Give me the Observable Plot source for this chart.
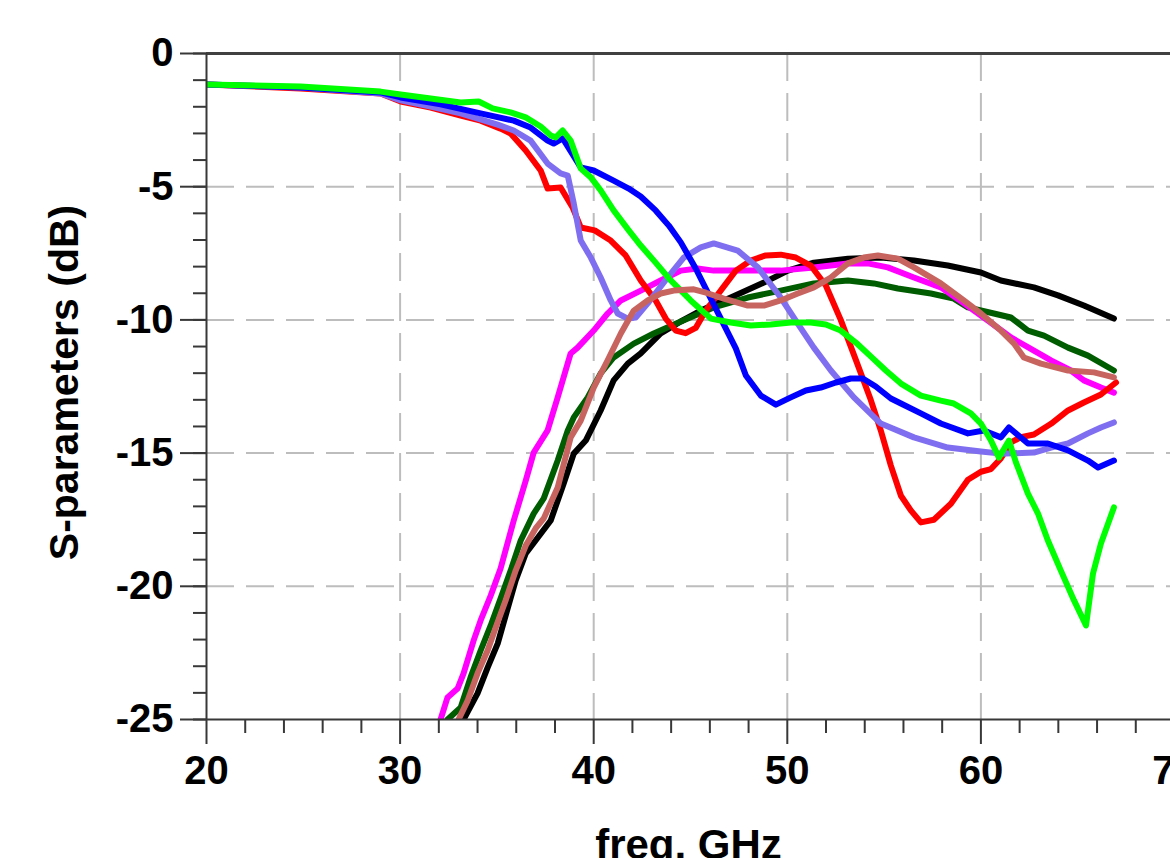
<!DOCTYPE html>
<html>
<head>
<meta charset="utf-8">
<script src="https://cdn.jsdelivr.net/npm/d3@7"></script>
<script src="https://cdn.jsdelivr.net/npm/@observablehq/plot@0.6"></script>
<style>
  html, body { margin: 0; padding: 0; background: #fff; overflow: hidden; }
  #chart svg { display: block; font-family: Arial, "Liberation Sans", sans-serif; font-weight: bold; }
</style>
</head>
<body>
<div id="chart"></div>
<script>
// frequency (GHz), S-parameter (dB)
const red = [[20,-1.16],[24.86,-1.31],[28.99,-1.5],[30.03,-1.8],[31.58,-2.03],[33.13,-2.33],[34.16,-2.52],[35.19,-2.82],[35.71,-3.0],[36.49,-3.64],[37.26,-4.39],[37.62,-5.07],[38.29,-5.03],[38.91,-5.78],[39.33,-6.53],[40.05,-6.64],[40.88,-7.02],[41.65,-7.58],[42.43,-8.52],[43.2,-9.27],[43.72,-9.95],[44.24,-10.4],[44.75,-10.5],[45.27,-10.3],[45.79,-9.65],[46.56,-8.9],[47.34,-8.15],[48.11,-7.77],[48.89,-7.58],[49.66,-7.55],[50.44,-7.66],[51.21,-7.96],[51.99,-8.71],[52.76,-10.0],[53.54,-11.5],[54.31,-13.0],[54.83,-14.15],[55.35,-15.47],[55.87,-16.6],[56.38,-17.15],[56.9,-17.6],[57.57,-17.5],[58.45,-16.9],[59.33,-16.0],[60.0,-15.7],[60.52,-15.6],[61.03,-15.2],[61.55,-14.6],[62.07,-14.4],[62.74,-14.3],[63.62,-13.9],[64.5,-13.4],[65.32,-13.1],[66.2,-12.8],[66.98,-12.35]];
const blue = [[20,-1.16],[24.86,-1.28],[28.99,-1.46],[30.03,-1.65],[32.09,-1.91],[34.16,-2.25],[35.87,-2.52],[36.74,-2.78],[37.62,-3.27],[37.93,-3.38],[38.4,-3.19],[39.33,-4.28],[40.0,-4.39],[41.03,-4.77],[41.81,-5.07],[42.43,-5.37],[43.2,-5.89],[43.88,-6.46],[44.5,-7.09],[45.27,-8.07],[46.05,-9.2],[46.67,-10.1],[47.34,-11.07],[47.86,-12.09],[48.63,-12.84],[49.41,-13.18],[50.18,-12.91],[50.96,-12.65],[51.73,-12.54],[52.51,-12.35],[53.28,-12.2],[53.9,-12.2],[54.57,-12.5],[55.35,-12.95],[55.87,-13.14],[56.9,-13.51],[57.93,-13.89],[59.33,-14.26],[60.15,-14.15],[61.03,-14.41],[61.45,-14.04],[62.43,-14.64],[63.46,-14.64],[64.5,-14.9],[65.53,-15.28],[66.05,-15.54],[66.87,-15.28]];
const green = [[20,-1.16],[24.86,-1.24],[28.99,-1.43],[30.03,-1.54],[31.58,-1.69],[33.13,-1.84],[34.06,-1.8],[34.78,-2.06],[35.71,-2.21],[36.49,-2.4],[37.26,-2.74],[37.78,-3.08],[38.04,-3.15],[38.4,-2.89],[38.81,-3.27],[39.33,-4.32],[39.85,-4.65],[40.36,-5.14],[41.03,-5.89],[41.81,-6.64],[42.43,-7.21],[43.2,-7.85],[43.98,-8.52],[45.01,-9.27],[46.05,-9.95],[47.08,-10.1],[48.11,-10.21],[49.15,-10.17],[50.18,-10.1],[51.21,-10.1],[51.99,-10.17],[52.76,-10.4],[53.54,-10.85],[54.31,-11.37],[55.09,-11.9],[55.87,-12.39],[56.9,-12.84],[57.93,-13.03],[58.6,-13.14],[59.48,-13.51],[60.0,-13.89],[60.52,-14.53],[60.93,-15.17],[61.45,-14.53],[61.81,-15.35],[62.43,-16.52],[62.95,-17.27],[63.46,-18.28],[64.13,-19.41],[64.81,-20.53],[65.43,-21.47],[65.79,-19.52],[66.2,-18.39],[66.87,-17.04]];
const purple = [[20,-1.16],[24.86,-1.28],[28.99,-1.5],[30.03,-1.76],[31.58,-1.99],[33.13,-2.25],[35.04,-2.67],[35.87,-2.89],[36.74,-3.27],[37.62,-4.13],[38.29,-4.5],[38.66,-4.58],[38.97,-5.63],[39.33,-7.02],[39.85,-7.66],[40.36,-8.41],[40.88,-9.27],[41.24,-9.76],[41.76,-9.95],[42.17,-9.91],[42.79,-9.38],[43.82,-8.41],[44.65,-7.66],[45.53,-7.28],[46.2,-7.13],[47.44,-7.4],[48.48,-8.03],[49.66,-9.16],[50.54,-10.14],[51.37,-11.04],[52.25,-11.9],[53.44,-12.91],[54.83,-13.89],[56.54,-14.41],[58.29,-14.79],[60.0,-14.94],[61.03,-15.02],[62.74,-14.98],[63.62,-14.79],[64.5,-14.64],[65.53,-14.26],[66.2,-14.04],[66.87,-13.85]];
const magenta = [[32.09,-25.0],[32.45,-24.17],[32.97,-23.84],[33.28,-23.27],[33.8,-22.03],[34.16,-21.28],[34.68,-20.35],[35.19,-19.33],[35.87,-17.53],[36.49,-16.03],[36.9,-14.98],[37.62,-14.15],[38.14,-12.91],[38.81,-11.26],[39.17,-11.04],[40.0,-10.4],[40.72,-9.76],[41.4,-9.27],[42.43,-8.9],[43.46,-8.52],[44.5,-8.15],[45.37,-8.07],[46.2,-8.15],[47.96,-8.15],[49.66,-8.15],[51.37,-8.03],[53.13,-7.88],[54.16,-7.88],[55.19,-8.03],[56.54,-8.41],[57.93,-8.78],[59.12,-9.38],[60.36,-10.02],[61.55,-10.66],[62.74,-11.15],[63.62,-11.52],[64.65,-11.9],[65.32,-12.27],[66.2,-12.54],[66.87,-12.73]];
const black = [[33.28,-25.0],[34.0,-24.02],[34.52,-23.05],[35.04,-22.15],[35.45,-21.1],[35.97,-19.78],[36.49,-18.77],[37.0,-18.28],[37.78,-17.53],[38.45,-16.14],[38.97,-15.02],[39.59,-14.53],[40.36,-13.4],[41.03,-12.27],[41.76,-11.64],[42.43,-11.26],[43.46,-10.51],[44.5,-10.06],[45.53,-9.65],[47.08,-9.16],[48.79,-8.6],[50.03,-8.15],[51.37,-7.85],[53.13,-7.7],[54.83,-7.66],[56.54,-7.77],[58.29,-7.96],[60.0,-8.22],[61.03,-8.52],[62.74,-8.78],[63.98,-9.08],[65.32,-9.46],[66.87,-9.95]];
const darkgreen = [[32.45,-25.0],[33.13,-24.55],[33.64,-23.42],[34.16,-22.41],[34.68,-21.47],[35.19,-20.46],[35.71,-19.41],[36.23,-18.28],[36.9,-17.27],[37.42,-16.7],[38.14,-15.28],[38.66,-14.15],[38.97,-13.66],[39.69,-12.91],[40.36,-12.01],[41.03,-11.41],[42.07,-10.89],[43.1,-10.51],[44.5,-10.06],[46.2,-9.53],[47.96,-9.16],[49.66,-8.9],[51.37,-8.63],[53.13,-8.52],[54.47,-8.63],[55.71,-8.82],[57.42,-9.01],[58.6,-9.2],[59.33,-9.53],[60.67,-9.76],[61.55,-9.91],[62.43,-10.4],[63.26,-10.59],[64.5,-11.04],[65.53,-11.34],[66.87,-11.9]];
const rosy = [[33.02,-25.0],[33.49,-24.29],[34.0,-23.27],[34.52,-22.41],[34.94,-21.55],[35.45,-20.53],[35.97,-19.41],[36.49,-18.47],[37.0,-17.83],[37.42,-17.45],[38.14,-16.29],[38.81,-14.41],[39.33,-13.78],[40.0,-12.54],[40.72,-11.52],[41.4,-10.51],[42.07,-9.65],[42.79,-9.27],[43.46,-9.01],[44.13,-8.9],[45.17,-8.85],[45.8,-8.98],[46.72,-9.2],[47.96,-9.46],[48.79,-9.46],[49.66,-9.27],[50.54,-9.01],[51.37,-8.78],[52.25,-8.41],[53.13,-7.88],[53.95,-7.66],[54.68,-7.58],[55.71,-7.7],[56.54,-8.03],[57.93,-8.63],[59.12,-9.27],[60.0,-9.76],[61.03,-10.4],[61.71,-10.89],[62.22,-11.41],[63.1,-11.64],[64.5,-11.9],[65.84,-11.97],[66.87,-12.16]];

const seriesNames = ["s_black","s_darkgreen","s_magenta","s_red","s_purple","s_blue","s_green","s_rosy"];
const seriesColors = ["#000000","#005c00","#ff00ff","#ff0000","#7f6ff0","#0000ff","#00ff00","#c86460"];
const seriesData = [black, darkgreen, magenta, red, purple, blue, green, rosy];

const xMajor = [20, 30, 40, 50, 60, 70];
const xMinor = [22,24,26,28,32,34,36,38,42,44,46,48,52,54,56,58,62,64,66,68];
const yMajor = [0, -5, -10, -15, -20, -25];
const yMinor = d3.range(0, -26, -1);
const xGrid = [30, 40, 50, 60, 70];
const yGrid = [-5, -10, -15, -20];
const xTitle = "freq, GHz";
const yTitle = "S-parameters (dB)";

const tables = seriesData.map((arr, i) => arr.map(([f, v]) => ({series: seriesNames[i], f, v})));

const axisStyle = {stroke: "#383838", strokeWidth: 2, strokeOpacity: 1, fill: "#000", fontSize: 40, fontWeight: "bold"};

const chart = Plot.plot({
  width: 1170,
  height: 858,
  marginLeft: 206,
  marginRight: -4,
  marginTop: 53,
  marginBottom: 139,
  x: {domain: [20, 70]},
  y: {domain: [-25, 0]},
  marks: [
    Plot.gridX(xGrid, {stroke: "#bdbdbd", strokeOpacity: 1, strokeWidth: 2, strokeDasharray: "28,12"}),
    Plot.gridY(yGrid, {stroke: "#bdbdbd", strokeOpacity: 1, strokeWidth: 2, strokeDasharray: "28,12"}),
    ...tables.map((t, i) => Plot.line(t, {
      x: "f", y: "v", stroke: seriesColors[i], strokeWidth: 6, curve: "linear", clip: true,
      strokeLinejoin: "round", strokeLinecap: "round"
    })),
    Plot.ruleY([0], {stroke: "#404040", strokeWidth: 3}),
    Plot.ruleY([-25], {stroke: "#383838", strokeWidth: 2}),
    Plot.ruleX([20], {stroke: "#383838", strokeWidth: 2}),
    Plot.axisY(yMinor, {...axisStyle, tickSize: 13, tickFormat: () => "", label: null}),
    Plot.axisY(yMajor, {...axisStyle, tickSize: 26, tickPadding: 7, tickFormat: d => String(d), label: null}),
    Plot.axisX(xMinor, {...axisStyle, tickSize: 14, tickFormat: () => "", label: null}),
    Plot.axisX(xMajor, {...axisStyle, tickSize: 25, tickPadding: 11, tickFormat: d => String(d), label: null}),
    Plot.text([yTitle], {frameAnchor: "left", dx: -142, dy: -4, rotate: -90, fontSize: 41, fontWeight: "bold", fill: "#000", lineAnchor: "middle", textAnchor: "middle"}),
    Plot.text([xTitle], {frameAnchor: "bottom", dx: -2, dy: 126, fontSize: 42, fontWeight: "bold", fill: "#000", lineAnchor: "middle", textAnchor: "middle"})
  ]
});
document.getElementById("chart").appendChild(chart);
</script>
</body>
</html>
